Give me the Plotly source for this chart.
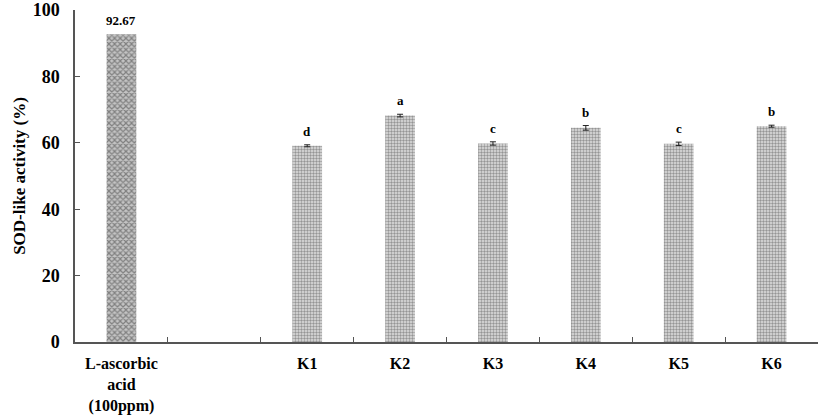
import plotly.graph_objects as go

categories = ["L-ascorbic<br>acid<br>(100ppm)", " ", "K1", "K2", "K3", "K4", "K5", "K6"]
ref_name = ["L-ascorbic<br>acid<br>(100ppm)"]
ref_value = [92.67]
ref_label = ["92.67"]
k_names = ["K1", "K2", "K3", "K4", "K5", "K6"]
k_values = [59.1, 68.2, 59.8, 64.5, 59.7, 65.0]
k_errors = [0.3, 0.4, 0.5, 0.7, 0.5, 0.3]
k_letters = ["d", "a", "c", "b", "c", "b"]
y_ticks = [0, 20, 40, 60, 80, 100]

FONT = "Times New Roman, Liberation Serif, serif"

fig = go.Figure()
fig.add_trace(go.Bar(
    x=ref_name, y=ref_value,
    marker=dict(color="white", line=dict(width=0),
                pattern=dict(shape="x", fgcolor="#3c3c3c", bgcolor="#c4c4c4", size=4, solidity=0.5)),
    showlegend=False,
))
fig.add_trace(go.Bar(
    x=k_names, y=k_values,
    marker=dict(color="white", line=dict(width=0),
                pattern=dict(shape=".", fgcolor="#4a4a4a", bgcolor="#e0e0e0", size=3, solidity=0.5)),
    error_y=dict(type="data", array=k_errors, color="#222222", thickness=1, width=3),
    showlegend=False,
))

for name, v, lab in zip(ref_name, ref_value, ref_label):
    fig.add_annotation(x=name, y=v, text="<b>" + lab + "</b>", showarrow=False,
                       yanchor="bottom", yshift=4, font=dict(family=FONT, size=13, color="black"))
for name, v, e, lab in zip(k_names, k_values, k_errors, k_letters):
    fig.add_annotation(x=name, y=v + e, text="<b>" + lab + "</b>", showarrow=False,
                       yanchor="bottom", yshift=4, font=dict(family=FONT, size=13, color="black"))

fig.update_layout(
    width=827, height=415,
    margin=dict(l=75, r=9, t=10, b=73),
    paper_bgcolor="white", plot_bgcolor="white",
    barmode="overlay", bargap=0.68,
    font=dict(family=FONT, color="black"),
    xaxis=dict(
        type="category", categoryorder="array", categoryarray=categories,
        tickmode="array", tickvals=categories, ticktext=[c if c.strip() else "" for c in categories],
        tickson="boundaries", ticks="inside", ticklen=5, tickcolor="#555555",
        showline=True, linecolor="#555555", linewidth=1.5,
        showgrid=False, zeroline=False, automargin=False,
        ticklabelstandoff=6,
        tickfont=dict(family=FONT, size=16, color="black", weight="bold"),
    ),
    yaxis=dict(
        range=[0, 100], tickvals=y_ticks,
        ticks="inside", ticklen=5, tickcolor="#555555",
        showline=True, linecolor="#555555", linewidth=1.5,
        showgrid=False, zeroline=False, automargin=False,
        ticklabeloverflow="allow",
        tickfont=dict(family=FONT, size=18, color="black", weight="bold"),
        ticklabelstandoff=10,
        title=dict(text="<b>SOD-like activity (%)</b>", font=dict(family=FONT, size=17, color="black"), standoff=3),
    ),
)
fig.write_html("out.html", config={"displayModeBar": False},
               post_script="document.body.style.margin='0';document.body.style.overflow='hidden';")
